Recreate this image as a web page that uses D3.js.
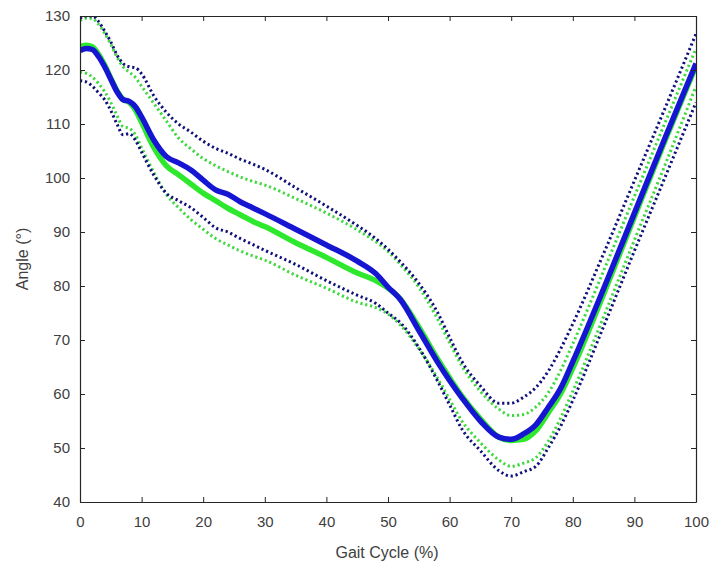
<!DOCTYPE html>
<html>
<head>
<meta charset="utf-8">
<script src="https://cdn.jsdelivr.net/npm/d3@7"></script>
<style>
  body { margin: 0; background: #fff; }
  text { font-family: "Liberation Sans", Arial, sans-serif; fill: #404040; }
</style>
</head>
<body>
<div id="chart"></div>
<script>
//////////////////////////////////////////////
// data //////////////////////////////////////
//////////////////////////////////////////////
// gait cycle (%)
var gait = [0, 1, 2, 3, 4, 5, 6, 7, 8, 9, 10, 12, 14, 16, 18, 20, 22, 24, 26, 28, 30, 35, 40, 45, 48, 50, 52, 55, 58, 60, 62, 65, 68, 70, 72, 74, 76, 78, 80, 85, 90, 95, 100];

// blue: mean, upper, lower
var blueMean  = [123.6, 124.0, 123.8, 122.5, 120.6, 118.3, 116.0, 114.5, 114.2, 113.2, 111.3, 107.0, 104.0, 102.8, 101.5, 99.6, 97.8, 97.0, 95.6, 94.5, 93.4, 90.5, 87.6, 84.6, 82.3, 79.8, 77.5, 71.8, 66.0, 62.5, 59.3, 55.0, 52.0, 51.6, 52.6, 54.3, 57.5, 61.0, 66.0, 79.5, 93.5, 107.5, 121.2];
var blueUpper = [129.6, 130.0, 130.0, 129.0, 127.2, 125.2, 122.8, 121.2, 120.6, 120.4, 119.3, 115.2, 112.2, 110.0, 108.5, 106.8, 105.5, 104.6, 103.5, 102.6, 101.6, 98.2, 94.8, 91.2, 88.8, 86.8, 84.5, 80.5, 75.2, 70.5, 66.0, 61.5, 58.3, 58.3, 59.4, 61.2, 64.2, 68.3, 73.0, 86.0, 99.5, 113.0, 126.7];
var blueLower = [118.0, 117.8, 117.0, 115.8, 114.5, 112.5, 110.0, 108.0, 108.2, 107.0, 104.8, 100.5, 97.2, 95.8, 94.5, 92.7, 90.8, 90.0, 88.8, 87.7, 86.6, 84.0, 81.0, 78.3, 76.8, 75.0, 73.2, 68.6, 62.5, 58.0, 53.5, 49.5, 45.8, 44.8, 45.6, 46.6, 50.0, 54.0, 58.8, 72.5, 86.5, 100.2, 114.0];

// green: mean, upper, lower
var greenMean  = [124.3, 124.6, 124.3, 122.9, 120.9, 118.5, 116.2, 114.6, 114.0, 112.6, 110.3, 105.6, 102.3, 100.6, 98.9, 97.2, 95.8, 94.4, 93.2, 92.0, 91.0, 88.0, 85.3, 82.4, 81.0, 79.6, 77.6, 72.4, 66.6, 63.0, 59.6, 55.4, 52.0, 51.4, 51.6, 53.2, 56.5, 60.0, 64.8, 78.5, 92.8, 107.0, 120.8];
var greenUpper = [129.2, 129.6, 129.5, 128.5, 126.8, 124.8, 122.4, 120.6, 119.6, 118.6, 117.0, 113.8, 110.6, 107.4, 105.4, 103.6, 102.3, 101.2, 100.2, 99.4, 98.7, 96.2, 93.5, 90.4, 88.2, 86.4, 84.0, 79.8, 74.0, 69.5, 65.2, 60.5, 57.2, 56.0, 56.2, 57.6, 60.2, 64.3, 69.3, 82.8, 96.6, 110.3, 124.0];
var greenLower = [119.6, 119.4, 118.7, 117.5, 116.0, 114.0, 111.6, 109.5, 109.2, 108.0, 105.6, 101.0, 97.0, 94.5, 92.3, 90.5, 88.8, 87.6, 86.5, 85.6, 84.8, 82.0, 79.6, 77.0, 76.0, 74.8, 72.8, 68.4, 63.0, 59.0, 55.0, 51.0, 47.8, 46.6, 47.2, 48.2, 51.2, 55.5, 60.5, 74.3, 88.5, 102.5, 117.0];

// tick labels
var xTicks = [0, 10, 20, 30, 40, 50, 60, 70, 80, 90, 100];
var yTicks = [40, 50, 60, 70, 80, 90, 100, 110, 120, 130];

//////////////////////////////////////////////
// Chart Config /////////////////////////////
//////////////////////////////////////////////
var margin = {top: 16, right: 17, bottom: 69, left: 80};
var width = 713 - margin.left - margin.right,
    height = 571 - margin.top - margin.bottom;

var xScale = d3.scaleLinear().domain([0, 100]).range([0, width]);
var yScale = d3.scaleLinear().domain([40, 130]).range([height, 0]);

var svg = d3.select("#chart")
  .append("svg")
  .attr("width", 713)
  .attr("height", 571);

var artboard = svg.append("g")
  .attr("transform", "translate(" + margin.left + "," + margin.top + ")");

// clip so lines stay inside the box
artboard.append("clipPath").attr("id", "clip")
  .append("rect").attr("width", width).attr("height", height);

//////////////////////////////////////////////
// Lines /////////////////////////////////////
//////////////////////////////////////////////
var line = d3.line()
  .curve(d3.curveMonotoneX)
  .x(function(d) { return xScale(d[0]); })
  .y(function(d) { return yScale(d[1]); });

function pairs(vals) {
  return gait.map(function(g, i) { return [g, vals[i]]; });
}

var traces = artboard.append("g").attr("clip-path", "url(#clip)");

// draw order: dotted green, dotted blue, green mean, blue mean
var series = [
  {vals: greenUpper, color: "#3fd83f", w: 3, dash: "2.2,2.8"},
  {vals: greenLower, color: "#3fd83f", w: 3, dash: "2.2,2.8"},
  {vals: blueUpper,  color: "#10107a", w: 3, dash: "2.2,2.8"},
  {vals: blueLower,  color: "#10107a", w: 3, dash: "2.2,2.8"},
  {vals: greenMean,  color: "#2ee82e", w: 5.5, dash: null},
  {vals: blueMean,   color: "#1616d2", w: 5.5, dash: null}
];

series.forEach(function(s) {
  traces.append("path")
    .datum(pairs(s.vals))
    .attr("d", line)
    .style("fill", "none")
    .style("stroke", s.color)
    .style("stroke-width", s.w)
    .style("stroke-dasharray", s.dash)
    .style("stroke-linejoin", "round");
});

//////////////////////////////////////////////
// Axes (box with inward ticks) //////////////
//////////////////////////////////////////////
var xAxis = d3.axisBottom(xScale).tickValues(xTicks).tickSizeInner(-5).tickSizeOuter(0).tickPadding(14);
var yAxis = d3.axisLeft(yScale).tickValues(yTicks).tickSizeInner(-5).tickSizeOuter(0).tickPadding(10);
var xAxisTop = d3.axisTop(xScale).tickValues(xTicks).tickSizeInner(-5).tickSizeOuter(0).tickFormat("");
var yAxisRight = d3.axisRight(yScale).tickValues(yTicks).tickSizeInner(-5).tickSizeOuter(0).tickFormat("");

var gx = artboard.append("g").attr("transform", "translate(0," + height + ")").call(xAxis);
var gy = artboard.append("g").call(yAxis);
var gxt = artboard.append("g").call(xAxisTop);
var gyr = artboard.append("g").attr("transform", "translate(" + width + ",0)").call(yAxisRight);

[gx, gy, gxt, gyr].forEach(function(g) {
  g.select(".domain").style("stroke", "#262626").style("stroke-width", 1.2);
  g.selectAll(".tick line").style("stroke", "#262626").style("stroke-width", 1);
  g.selectAll(".tick text")
    .style("font-family", "'Liberation Sans', Arial, sans-serif")
    .style("font-size", "15px")
    .style("fill", "#404040");
});

// axis titles
svg.append("text")
  .attr("x", margin.left + width / 2 - 1)
  .attr("y", 558)
  .attr("text-anchor", "middle")
  .style("font-size", "16px")
  .text("Gait Cycle (%)");

svg.append("text")
  .attr("transform", "translate(28," + (margin.top + height / 2) + ") rotate(-90)")
  .attr("text-anchor", "middle")
  .style("font-size", "16px")
  .text("Angle (°)");
</script>
</body>
</html>
